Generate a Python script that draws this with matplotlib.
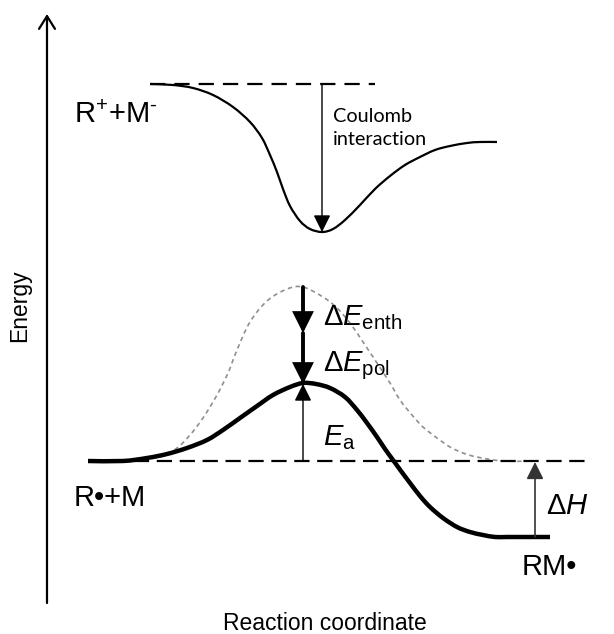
import matplotlib
matplotlib.use("Agg")
import matplotlib.pyplot as plt
from matplotlib.path import Path
from matplotlib.patches import PathPatch

plt.rcParams['font.family'] = ['Liberation Sans', 'DejaVu Sans']
plt.rcParams['mathtext.fontset'] = 'custom'
plt.rcParams['mathtext.rm'] = 'Liberation Sans'
plt.rcParams['mathtext.it'] = 'Liberation Sans:italic'
plt.rcParams['lines.scale_dashes'] = False

# schematic coordinates (x to the right, y downward)
ion_x = [150, 173, 193, 213, 233, 250, 262, 270, 277, 283, 290, 300, 310, 322,
         333, 345, 360, 375, 390, 405, 420, 435, 450, 467, 480, 497]
ion_y = [84, 85, 88, 95, 107, 122, 138, 155, 172, 189, 206, 221, 229, 232,
         229, 220, 205, 189, 176, 165, 157, 150, 146, 143, 142, 142]

barrier_x = [88, 123, 147, 167, 187, 207, 223, 240, 257, 273, 290, 303,
             316, 330, 345, 357, 367, 377, 385, 393, 401, 410, 420, 430, 443,
             457, 470, 483, 495, 507, 530, 550]
barrier_y = [461, 461, 458, 454, 448, 440, 430, 418, 406, 395, 387, 383,
             384, 388, 397, 410, 423, 437, 449, 460, 471, 483, 496, 507, 518,
             527, 532, 535, 537, 537, 537, 537]

nonpolar_x = [88, 130, 160, 177, 190, 203, 217, 228, 237, 250, 267, 287, 303,
              323, 337, 350, 363, 377, 390, 400, 412, 423, 437, 450, 463, 477, 503, 540]
nonpolar_y = [461, 460, 457, 448, 435, 418, 395, 373, 350, 322, 301, 289, 287,
              297, 308, 323, 342, 363, 383, 400, 415, 427, 438, 447, 453, 457, 461, 461]

ion_level = 84
radical_level = 461
product_level = 537
coulomb_x = 322
peak_x = 303
ts_top = 287
ts_mid = 333
ts_bottom = 383
dh_x = 535


def smooth_path(xs, ys):
    # catmull-rom through the read points, drawn as cubic bezier segments
    pts = list(zip(xs, ys))
    verts = [pts[0]]
    codes = [Path.MOVETO]
    for i in range(len(pts) - 1):
        p0 = pts[i - 1] if i > 0 else pts[i]
        p1 = pts[i]
        p2 = pts[i + 1]
        p3 = pts[i + 2] if i + 2 < len(pts) else pts[i + 1]
        c1 = (p1[0] + (p2[0] - p0[0]) / 6, p1[1] + (p2[1] - p0[1]) / 6)
        c2 = (p2[0] - (p3[0] - p1[0]) / 6, p2[1] - (p3[1] - p1[1]) / 6)
        verts += [c1, c2, p2]
        codes += [Path.CURVE4] * 3
    return Path(verts, codes)


fig = plt.figure(figsize=(6.14, 6.34), dpi=100)
ax = fig.add_axes([0, 0, 1, 1])
ax.set_xlim(0, 614)
ax.set_ylim(634, 0)
ax.axis('off')

# axes arrows
axis_arrow = dict(arrowstyle='->,head_length=0.4,head_width=0.25', mutation_scale=23,
                  lw=1.6, color='black', shrinkA=0, shrinkB=0)
ax.annotate('', xy=(47, 14), xytext=(47, 603), arrowprops=axis_arrow)
ax.annotate('', xy=(624, 603), xytext=(46, 603), arrowprops=axis_arrow)

# energy levels
ax.plot([150, 375], [ion_level, ion_level], color='black', lw=1.6, dashes=(11, 6.5))
ax.plot([88, 590], [radical_level, radical_level], color='black', lw=1.6, dashes=(11, 5.5))

# curves
ax.add_patch(PathPatch(smooth_path(nonpolar_x, nonpolar_y), fill=False, ec='#8f8f8f',
                       lw=1.2, ls=(0, (3.2, 2.6))))
ax.add_patch(PathPatch(smooth_path(ion_x, ion_y), fill=False, ec='black', lw=1.6,
                       joinstyle='round'))
ax.add_patch(PathPatch(smooth_path(barrier_x, barrier_y), fill=False, ec='black', lw=3.2,
                       joinstyle='round', capstyle='butt'))

# arrows
thin = dict(arrowstyle='-|>,head_length=0.4,head_width=0.2', mutation_scale=26,
            lw=1.0, color='black', shrinkA=0, shrinkB=0)
thick = dict(arrowstyle='-|>,head_length=0.4,head_width=0.2', mutation_scale=28,
             lw=2.8, color='black', shrinkA=0, shrinkB=0, joinstyle='miter')
ax.annotate('', xy=(coulomb_x, 232), xytext=(coulomb_x, ion_level), arrowprops=thin)
ax.annotate('', xy=(peak_x, ts_mid), xytext=(peak_x, ts_top), arrowprops=thick)
ax.annotate('', xy=(peak_x, ts_bottom + 1), xytext=(peak_x, ts_mid), arrowprops=thick)
ax.annotate('', xy=(peak_x, ts_bottom + 1), xytext=(peak_x, radical_level), arrowprops=thin)
ax.annotate('', xy=(dh_x, radical_level + 1), xytext=(dh_x, product_level),
            arrowprops=dict(thin, color='#333333', lw=1.2))

# labels
ax.text(74, 115, r'R$^{\text{+}}$+M$^{\text{-}}$', fontsize=21, va='center', ha='left')
ax.text(333, 128, 'Coulomb\ninteraction', fontsize=14.3, family=['Lato', 'DejaVu Sans'],
        va='center', ha='left', linespacing=1.38)
ax.text(323, 325, r'$\Delta\mathit{E}_{\mathrm{enth}}$', fontsize=21, va='baseline', ha='left')
ax.text(323, 371, r'$\Delta\mathit{E}_{\mathrm{pol}}$', fontsize=21, va='baseline', ha='left')
ax.text(323, 445, r'$\mathit{E}_{\mathrm{a}}$', fontsize=21, va='baseline', ha='left')
ax.text(546, 514, r'$\Delta\mathit{H}$', fontsize=21, va='baseline', ha='left')
ax.text(74, 498, 'R\u2022+M', fontsize=21, va='center', ha='left')
ax.text(522, 567, 'RM\u2022', fontsize=21, va='center', ha='left')
ax.text(325, 624, 'Reaction coordinate', fontsize=16.5, va='center', ha='center')
ax.text(20, 306, 'Energy', fontsize=16.5, va='center', ha='center', rotation=90)

fig.savefig('out.png', dpi=100)
